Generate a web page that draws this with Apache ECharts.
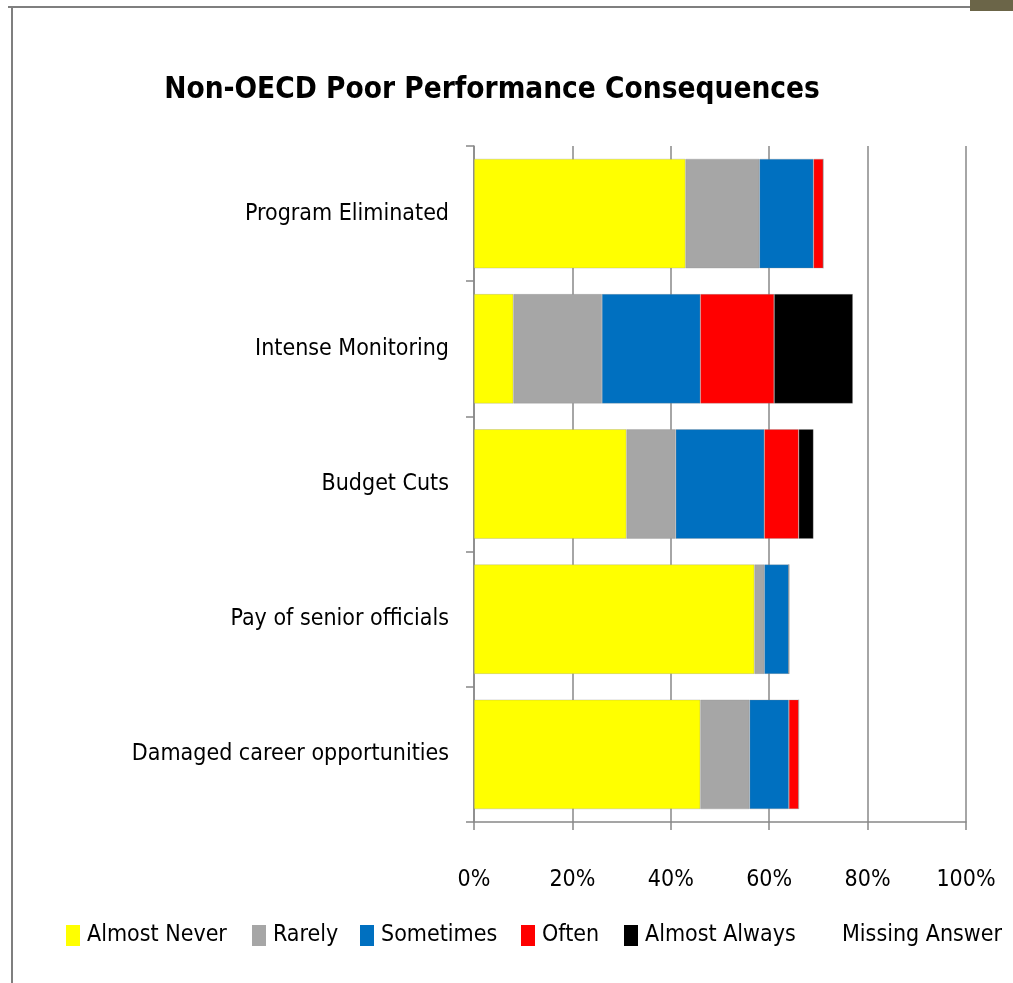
<!DOCTYPE html>
<html><head><meta charset="utf-8">
<script src="https://cdn.jsdelivr.net/npm/echarts@6/dist/echarts.min.js"></script>
<style>html,body{margin:0;padding:0;background:#fff}#c{width:1013px;height:983px}</style>
</head><body><div id="c"></div>
<script>
var categories = ['Program Eliminated','Intense Monitoring','Budget Cuts','Pay of senior officials','Damaged career opportunities'];
var seriesNames = ['Almost Never','Rarely','Sometimes','Often','Almost Always','Missing Answer'];
var almostNever = [43, 8, 31, 57, 46];
var rarely = [15, 18, 10, 2, 10];
var sometimes = [11, 20, 18, 5, 8];
var often = [2, 15, 7, 0, 2];
var almostAlways = [0, 16, 3, 0, 0];
var missingAnswer = [29, 23, 31, 36, 34];
var xTicks = ['0%','20%','40%','60%','80%','100%'];
var colors = ['#FFFF00','#A6A6A6','#0070C0','#FF0000','#000000','rgba(255,255,255,0)'];
var legendLeft = [66, 252, 360, 521, 624, 821];
var FONT = '"Liberation Sans Narrow","DejaVu Sans Condensed","Liberation Sans",sans-serif';
var values = [almostNever, rarely, sometimes, often, almostAlways, missingAnswer];
var chart = echarts.init(document.getElementById('c'), null, {renderer:'canvas'});
var series = seriesNames.map(function(n,i){
  return {name:n, type:'bar', stack:'total', data:values[i], barWidth:'81%',
    itemStyle:{color:colors[i], borderColor: i===5?'rgba(0,0,0,0)':'rgba(140,140,140,0.5)', borderWidth: i===5?0:0.6},
    emphasis:{disabled:true}};
});
var legends = seriesNames.map(function(n,i){
  return {top:924, left:legendLeft[i], itemWidth:14, itemHeight:21, padding:0,
    selectedMode:false,
    textStyle:{fontFamily:FONT, fontSize:23, color:'#000', padding:[0,0,0,2]},
    data:[{name:n, icon:'rect', itemStyle:{color:colors[i], borderWidth:0}}]};
});
chart.setOption({
  animation:false,
  backgroundColor:'#fff',
  title:{text:'Non-OECD Poor Performance Consequences', left:487, top:70, textAlign:'center',
    textStyle:{fontFamily:FONT, fontSize:29.5, fontWeight:'bold', color:'#000'}},
  legend:legends,
  grid:{left:474, right:47, top:146, bottom:161, containLabel:false},
  xAxis:{type:'value', min:0, max:100, interval:20,
    axisLine:{show:true, lineStyle:{color:'#888', width:1.5}},
    axisTick:{show:true, length:8, lineStyle:{color:'#888', width:1.5}},
    axisLabel:{fontFamily:FONT, fontSize:23, color:'#000', margin:47, formatter:function(v){return xTicks[v/20];}},
    splitLine:{show:true, lineStyle:{color:'#888', width:1.5}}},
  yAxis:{type:'category', data:categories, inverse:true,
    axisLine:{show:true, lineStyle:{color:'#888', width:1.5}},
    axisTick:{show:true, length:8, lineStyle:{color:'#888', width:1.5}},
    axisLabel:{fontFamily:FONT, fontSize:23, color:'#000', margin:25}},
  series:series,
  graphic:[
    {type:'line', shape:{x1:8,y1:7,x2:1013,y2:7}, style:{stroke:'#7f7f7f', lineWidth:2}},
    {type:'line', shape:{x1:12,y1:7,x2:12,y2:983}, style:{stroke:'#7f7f7f', lineWidth:2}},
    {type:'rect', shape:{x:970,y:0,width:43,height:11}, style:{fill:'#6b6548'}}
  ]
});
</script></body></html>
